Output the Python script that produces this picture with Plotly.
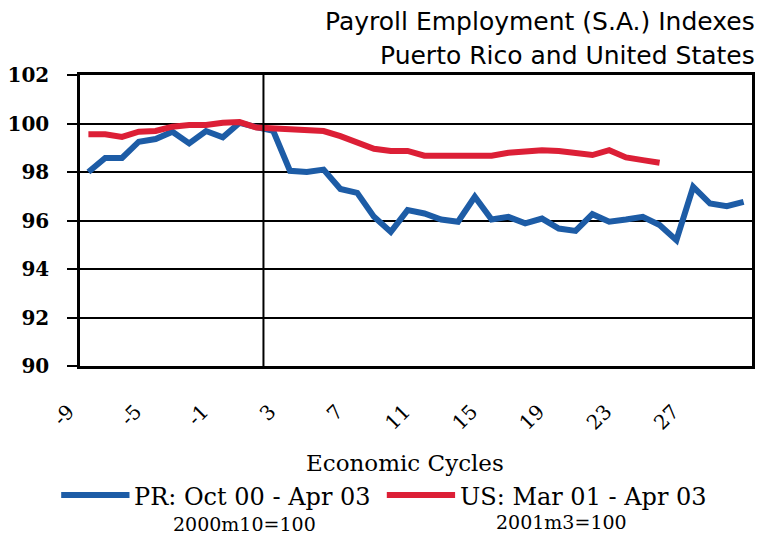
import plotly.graph_objects as go

# Economic cycle categories (months relative to cycle)
cycles = [-9, -8, -7, -6, -5, -4, -3, -2, -1, 0, 1, 2, 3, 4, 5, 6, 7, 8, 9, 10,
          11, 12, 13, 14, 15, 16, 17, 18, 19, 20, 21, 22, 23, 24, 25, 26, 27, 28, 29, 30]

pr_index = [98.00, 98.58, 98.58, 99.25, 99.36, 99.66, 99.18, 99.69, 99.43, 100.03,
            99.85, 99.70, 98.05, 98.00, 98.10, 97.30, 97.14, 96.15, 95.53, 96.43,
            96.29, 96.04, 95.95, 96.98, 96.04, 96.15, 95.88, 96.08, 95.67, 95.57,
            96.26, 95.95, 96.04, 96.15, 95.81, 95.19, 97.39, 96.70, 96.59, 96.77]

us_index = [99.56, 99.56, 99.45, 99.66, 99.69, 99.87, 99.94, 99.94, 100.03, 100.06,
            99.83, 99.80, 99.77, 99.69, 99.69, 99.48, 99.20, 98.96, 98.87, 98.87,
            98.67, 98.67, 98.67, 98.67, 98.67, 98.79, 98.83, 98.90, 98.87, 98.79,
            98.70, 98.90, 98.60, 98.49, 98.38]

x_tick_vals = [-9, -5, -1, 3, 7, 11, 15, 19, 23, 27]
x_tick_text = ["-9", "-5", "-1", "3", "7", "11", "15", "19", "23", "27"]
y_tick_vals = [90, 92, 94, 96, 98, 100, 102]

pr_name = "PR: Oct 00 - Apr 03"
us_name = "US: Mar 01 - Apr 03"
pr_base = "2000m10=100"
us_base = "2001m3=100"
title_lines = ["Payroll Employment (S.A.) Indexes", "Puerto Rico and United States"]
x_title = "Economic Cycles"

BLUE = "#1d5ca6"
RED = "#dc1f36"
W, H = 762, 535
L, R, T, B = 76, 7, 75, 169
PW, PH = W - L - R, H - T - B


def px(x):
    return (x - L) / PW


def py(y):
    return (H - B - y) / PH


fig = go.Figure()
fig.add_trace(go.Scatter(x=cycles[:len(pr_index)], y=pr_index, mode="lines",
                         line=dict(color=BLUE, width=6), name=pr_name))
fig.add_trace(go.Scatter(x=cycles[:len(us_index)], y=us_index, mode="lines",
                         line=dict(color=RED, width=6), name=us_name))

serif = "DejaVu Serif"
sans = "DejaVu Sans"

annotations = [
    dict(text=title_lines[0], x=px(760), y=py(22), xref="paper", yref="paper",
         xanchor="right", yanchor="middle", showarrow=False,
         font=dict(family=sans, size=25, color="black")),
    dict(text=title_lines[1], x=px(760), y=py(55), xref="paper", yref="paper",
         xanchor="right", yanchor="middle", showarrow=False,
         font=dict(family=sans, size=25, color="black")),
    dict(text=x_title, x=px(404), y=py(463), xref="paper", yref="paper",
         xanchor="center", yanchor="middle", showarrow=False,
         font=dict(family=serif, size=23, color="black")),
    dict(text=pr_name, x=px(129), y=py(497), xref="paper", yref="paper",
         xanchor="left", yanchor="middle", showarrow=False,
         font=dict(family=serif, size=24, color="black")),
    dict(text=us_name, x=px(458), y=py(497), xref="paper", yref="paper",
         xanchor="left", yanchor="middle", showarrow=False,
         font=dict(family=serif, size=24, color="black")),
    dict(text=pr_base, x=px(242), y=py(524), xref="paper", yref="paper",
         xanchor="center", yanchor="middle", showarrow=False,
         font=dict(family=serif, size=19, color="black")),
    dict(text=us_base, x=px(563), y=py(522), xref="paper", yref="paper",
         xanchor="center", yanchor="middle", showarrow=False,
         font=dict(family=serif, size=19, color="black")),
]

shapes = [
    dict(type="line", xref="x", yref="y", x0=1.42, x1=1.42, y0=90, y1=102,
         line=dict(color="black", width=2)),
    dict(type="line", xref="paper", yref="paper", x0=px(57), x1=px(126), y0=py(495), y1=py(495),
         line=dict(color=BLUE, width=6)),
    dict(type="line", xref="paper", yref="paper", x0=px(386), x1=px(455), y0=py(495), y1=py(495),
         line=dict(color=RED, width=6)),
]

fig.update_layout(
    width=W, height=H,
    margin=dict(l=L, r=R, t=T, b=B, pad=0),
    paper_bgcolor="white", plot_bgcolor="white",
    showlegend=False,
    annotations=annotations,
    shapes=shapes,
    xaxis=dict(range=[-9.5, 30.5], tickvals=x_tick_vals, ticktext=x_tick_text, tickangle=-45,
               showgrid=False, zeroline=False, showline=True, linecolor="black",
               linewidth=3, mirror=True, ticks="",
               tickfont=dict(family=serif, size=20, color="black"),
               ticklabelstandoff=23, ticklabelshift=-20),
    yaxis=dict(range=[90, 102], tickvals=y_tick_vals, showgrid=True, gridcolor="black",
               gridwidth=1.5, zeroline=False, showline=True, linecolor="black",
               linewidth=2.5, mirror=True, ticks="outside", ticklen=10, tickwidth=2,
               tickcolor="black", ticklabelstandoff=14,
               tickfont=dict(family=serif, size=20, color="black", weight="bold")),
)

fig.write_html("out.html", config={"displayModeBar": False},
               post_script="document.body.style.margin='0';document.body.style.padding='0';")
